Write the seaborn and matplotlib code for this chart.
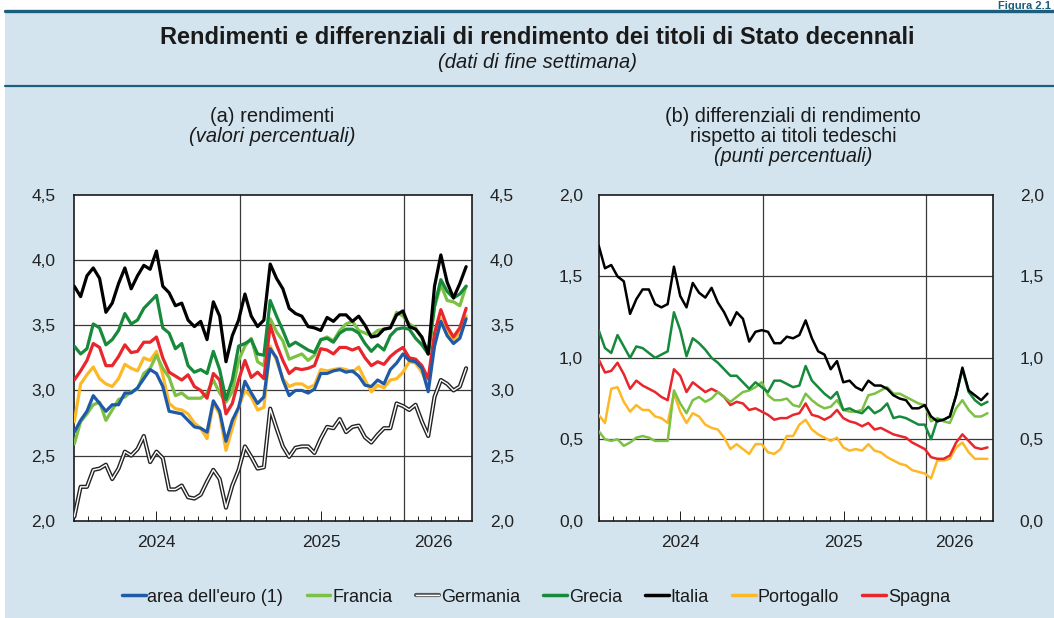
import matplotlib
matplotlib.use("Agg")
import matplotlib.pyplot as plt
import matplotlib.dates as mdates
import matplotlib.patheffects as pe
import matplotlib.ticker as mtick
import matplotlib.transforms as mtrans
from matplotlib.lines import Line2D
from matplotlib.patches import Rectangle
import pandas as pd
import seaborn as sns

sns.set_theme(style="white")
plt.rcParams["font.family"] = ["Liberation Sans", "DejaVu Sans"]

BG = "#d3e4ee"
TEAL = "#1d5e7c"
INK = "#1a1a1a"
COLORS = {
    "area dell'euro (1)": "#1f5aa8",
    "Francia": "#7cc143",
    "Germania": "#ffffff",
    "Grecia": "#16893b",
    "Italia": "#000000",
    "Portogallo": "#fdb827",
    "Spagna": "#e8262c",
}
LEGEND_ORDER = list(COLORS)

# fine settimana, campionati ogni due settimane
dates = pd.date_range("2024-01-01", periods=63, freq="14D")

# (a) rendimenti, valori percentuali
italia_y = [3.80, 3.72, 3.88, 3.94, 3.86, 3.60, 3.67, 3.82, 3.94, 3.78,
            3.88, 3.96, 3.93, 4.07, 3.80, 3.75, 3.65, 3.67, 3.54, 3.49,
            3.53, 3.39, 3.68, 3.57, 3.22, 3.42, 3.54, 3.74, 3.57, 3.49,
            3.54, 3.97, 3.86, 3.78, 3.63, 3.59, 3.57, 3.49, 3.48, 3.46,
            3.56, 3.53, 3.58, 3.58, 3.53, 3.57, 3.50, 3.41, 3.42, 3.47,
            3.48, 3.58, 3.61, 3.49, 3.47, 3.41, 3.28, 3.80, 4.04, 3.83,
            3.71, 3.82, 3.95]
grecia_y = [3.34, 3.28, 3.32, 3.51, 3.48, 3.35, 3.39, 3.46, 3.59, 3.51,
            3.54, 3.63, 3.68, 3.73, 3.48, 3.44, 3.32, 3.36, 3.19, 3.14,
            3.16, 3.13, 3.30, 3.16, 2.93, 3.08, 3.34, 3.36, 3.39, 3.28,
            3.27, 3.69, 3.57, 3.46, 3.34, 3.37, 3.34, 3.31, 3.29, 3.39,
            3.40, 3.37, 3.44, 3.47, 3.47, 3.44, 3.36, 3.30, 3.35, 3.31,
            3.42, 3.47, 3.48, 3.47, 3.40, 3.35, 3.28, 3.65, 3.85, 3.76,
            3.71, 3.74, 3.80]
francia_y = [2.59, 2.76, 2.82, 2.89, 2.91, 2.77, 2.85, 2.93, 2.95, 2.99,
             3.01, 3.13, 3.17, 3.27, 3.17, 3.10, 2.96, 2.98, 2.94, 2.94,
             2.94, 2.98, 3.08, 2.98, 2.91, 2.99, 3.23, 3.34, 3.40, 3.22,
             3.19, 3.55, 3.45, 3.38, 3.24, 3.26, 3.28, 3.23, 3.27, 3.39,
             3.41, 3.38, 3.46, 3.51, 3.53, 3.46, 3.44, 3.42, 3.46, 3.47,
             3.48, 3.60, 3.57, 3.51, 3.48, 3.40, 3.28, 3.64, 3.81, 3.69,
             3.68, 3.65, 3.80]
spagna_y = [3.08, 3.15, 3.23, 3.36, 3.33, 3.19, 3.19, 3.26, 3.35, 3.29,
            3.30, 3.37, 3.37, 3.41, 3.25, 3.14, 3.11, 3.08, 3.12, 3.03,
            3.00, 2.94, 3.13, 3.08, 2.82, 2.90, 3.08, 3.23, 3.10, 3.14,
            3.09, 3.50, 3.35, 3.23, 3.13, 3.17, 3.16, 3.17, 3.19, 3.32,
            3.31, 3.28, 3.33, 3.33, 3.31, 3.33, 3.25, 3.19, 3.22, 3.20,
            3.26, 3.30, 3.33, 3.25, 3.24, 3.19, 3.09, 3.44, 3.62, 3.49,
            3.41, 3.48, 3.63]
portogallo_y = [2.76, 3.05, 3.12, 3.18, 3.09, 3.05, 3.03, 3.09, 3.20, 3.17,
                3.15, 3.25, 3.23, 3.30, 3.12, 2.90, 2.86, 2.85, 2.82, 2.75,
                2.71, 2.63, 2.90, 2.82, 2.54, 2.71, 2.87, 3.00, 2.95, 2.85,
                2.87, 3.34, 3.23, 3.09, 3.03, 3.05, 3.05, 3.02, 3.04, 3.16,
                3.15, 3.16, 3.17, 3.16, 3.14, 3.18, 3.08, 2.99, 3.04, 3.02,
                3.08, 3.09, 3.14, 3.22, 3.21, 3.14, 3.03, 3.40, 3.55, 3.45,
                3.39, 3.44, 3.57]
euro_y = [2.68, 2.77, 2.84, 2.96, 2.90, 2.84, 2.89, 2.89, 2.98, 2.98,
          3.02, 3.09, 3.16, 3.13, 3.03, 2.84, 2.83, 2.82, 2.77, 2.72,
          2.71, 2.68, 2.92, 2.84, 2.61, 2.77, 2.87, 3.07, 2.98, 2.90,
          2.95, 3.32, 3.25, 3.08, 2.96, 3.00, 3.00, 2.98, 3.01, 3.13,
          3.13, 3.15, 3.16, 3.14, 3.15, 3.11, 3.04, 3.03, 3.08, 3.05,
          3.16, 3.21, 3.28, 3.23, 3.22, 3.17, 2.99, 3.34, 3.53, 3.42,
          3.36, 3.40, 3.55]
germania_y = [2.03, 2.26, 2.26, 2.39, 2.40, 2.43, 2.32, 2.40, 2.53, 2.50,
              2.55, 2.65, 2.45, 2.53, 2.48, 2.24, 2.24, 2.27, 2.18, 2.17,
              2.20, 2.30, 2.39, 2.32, 2.10, 2.27, 2.39, 2.57, 2.49, 2.40,
              2.41, 2.86, 2.71, 2.57, 2.49, 2.56, 2.57, 2.57, 2.52, 2.63,
              2.72, 2.71, 2.78, 2.68, 2.72, 2.73, 2.64, 2.60, 2.66, 2.71,
              2.71, 2.90, 2.88, 2.85, 2.89, 2.76, 2.65, 2.95, 3.08, 3.05,
              3.00, 3.03, 3.17]

# (b) differenziali rispetto ai titoli tedeschi, punti percentuali
italia_s = [1.69, 1.55, 1.57, 1.50, 1.47, 1.27, 1.36, 1.42, 1.42, 1.33,
            1.31, 1.33, 1.56, 1.38, 1.31, 1.46, 1.40, 1.37, 1.43, 1.34,
            1.28, 1.20, 1.28, 1.24, 1.10, 1.16, 1.17, 1.16, 1.09, 1.09,
            1.13, 1.12, 1.14, 1.23, 1.12, 1.04, 1.02, 0.93, 0.98, 0.85,
            0.86, 0.82, 0.80, 0.86, 0.83, 0.83, 0.81, 0.77, 0.75, 0.74,
            0.69, 0.69, 0.71, 0.64, 0.61, 0.62, 0.64, 0.77, 0.94, 0.80,
            0.77, 0.74, 0.78]
grecia_s = [1.17, 1.06, 1.03, 1.14, 1.07, 1.00, 1.07, 1.06, 1.03, 1.00,
            1.02, 1.04, 1.28, 1.17, 1.01, 1.12, 1.09, 1.05, 1.00, 0.97,
            0.93, 0.89, 0.89, 0.85, 0.81, 0.85, 0.82, 0.79, 0.86, 0.86,
            0.84, 0.82, 0.83, 0.95, 0.86, 0.82, 0.78, 0.75, 0.79, 0.68,
            0.69, 0.67, 0.66, 0.70, 0.66, 0.68, 0.72, 0.63, 0.64, 0.63,
            0.61, 0.59, 0.59, 0.50, 0.62, 0.62, 0.64, 0.77, 0.93, 0.79,
            0.74, 0.71, 0.73]
francia_s = [0.55, 0.50, 0.49, 0.50, 0.46, 0.48, 0.51, 0.52, 0.51, 0.49,
             0.49, 0.49, 0.80, 0.72, 0.66, 0.74, 0.76, 0.73, 0.75, 0.79,
             0.76, 0.73, 0.76, 0.79, 0.80, 0.82, 0.85, 0.77, 0.74, 0.74,
             0.75, 0.71, 0.70, 0.78, 0.74, 0.71, 0.69, 0.70, 0.74, 0.68,
             0.67, 0.67, 0.68, 0.77, 0.78, 0.80, 0.82, 0.78, 0.78, 0.76,
             0.74, 0.72, 0.71, 0.61, 0.63, 0.61, 0.60, 0.69, 0.74, 0.68,
             0.64, 0.64, 0.66]
spagna_s = [0.99, 0.91, 0.92, 0.97, 0.90, 0.81, 0.86, 0.83, 0.81, 0.79,
            0.76, 0.74, 0.93, 0.89, 0.79, 0.85, 0.82, 0.79, 0.81, 0.79,
            0.76, 0.71, 0.73, 0.72, 0.68, 0.69, 0.67, 0.65, 0.62, 0.63,
            0.63, 0.65, 0.66, 0.72, 0.65, 0.64, 0.62, 0.64, 0.68, 0.63,
            0.61, 0.60, 0.58, 0.60, 0.56, 0.57, 0.55, 0.53, 0.52, 0.51,
            0.48, 0.46, 0.44, 0.39, 0.38, 0.38, 0.40, 0.48, 0.53, 0.49,
            0.45, 0.44, 0.45]
portogallo_s = [0.65, 0.60, 0.81, 0.82, 0.73, 0.67, 0.71, 0.68, 0.68, 0.64,
                0.63, 0.60, 0.78, 0.67, 0.60, 0.66, 0.64, 0.59, 0.57, 0.56,
                0.51, 0.44, 0.47, 0.44, 0.41, 0.47, 0.47, 0.42, 0.41, 0.44,
                0.52, 0.52, 0.59, 0.62, 0.56, 0.53, 0.51, 0.49, 0.51, 0.45,
                0.43, 0.44, 0.43, 0.47, 0.43, 0.42, 0.39, 0.37, 0.35, 0.34,
                0.31, 0.30, 0.29, 0.26, 0.37, 0.37, 0.38, 0.45, 0.48, 0.42,
                0.38, 0.38, 0.38]

yields = {
    "Portogallo": portogallo_y, "Francia": francia_y, "Spagna": spagna_y,
    "Grecia": grecia_y, "area dell'euro (1)": euro_y, "Italia": italia_y,
}
spreads = {
    "Portogallo": portogallo_s, "Spagna": spagna_s, "Francia": francia_s,
    "Grecia": grecia_s, "Italia": italia_s,
}

YEAR_LABELS = ["2024", "2025", "2026"]
YEAR_POS = [pd.Timestamp("2024-07-01"), pd.Timestamp("2025-07-01"),
            pd.Timestamp("2026-03-06")]
XLIM = (pd.Timestamp("2024-01-01"), pd.Timestamp("2026-05-31"))
comma = mtick.FuncFormatter(lambda v, _: f"{v:.1f}".replace(".", ","))


def long_form(series):
    frames = [pd.DataFrame({"date": dates, "value": v, "serie": k})
              for k, v in series.items()]
    return pd.concat(frames, ignore_index=True)


def style_panel(ax, ylim, step, pad_left, pad_right):
    ax.set_facecolor("white")
    ax.set_xlim(*XLIM)
    ax.set_ylim(*ylim)
    ticks = [ylim[0] + step * k for k in range(int(round((ylim[1] - ylim[0]) / step)) + 1)]
    for t in ticks[1:-1]:
        ax.axhline(t, color="#3a3a3a", lw=0.9, zorder=1)
    for yr in ("2025-01-01", "2026-01-01"):
        ax.axvline(pd.Timestamp(yr), color="#3a3a3a", lw=0.9, zorder=1)
    for s in ax.spines.values():
        s.set_color(INK)
        s.set_linewidth(1.2)
    ax.set_yticks(ticks)
    ax.yaxis.set_major_formatter(comma)
    ax.tick_params(axis="y", left=False, right=False, length=0, labelsize=12.5,
                   pad=pad_left, colors="#222222")
    ax.xaxis.set_minor_locator(mdates.MonthLocator())
    ax.xaxis.set_major_locator(mdates.MonthLocator(bymonth=7))
    ax.xaxis.set_major_formatter(mtick.NullFormatter())
    ax.tick_params(axis="x", which="minor", bottom=True, direction="in",
                   length=3.5, width=0.7, color=INK)
    ax.tick_params(axis="x", which="major", bottom=True, direction="in",
                   length=7, width=0.7, color=INK)
    ax.set_xlabel("")
    ax.set_ylabel("")
    trans = mtrans.blended_transform_factory(ax.transData, ax.transAxes)
    for lab, pos in zip(YEAR_LABELS, YEAR_POS):
        ax.text(pos, -0.068, lab, transform=trans, ha="center", va="center",
                fontsize=12.5, color="#222222")
    twin = ax.twinx()
    twin.set_ylim(*ylim)
    twin.set_yticks(ticks)
    twin.yaxis.set_major_formatter(comma)
    twin.tick_params(axis="y", right=False, left=False, length=0, labelsize=12.5,
                     pad=pad_right, colors="#222222")
    twin.grid(False)
    for s in twin.spines.values():
        s.set_visible(False)


fig = plt.figure(figsize=(10.54, 6.18), dpi=100, facecolor=BG)
W, H = 1054, 618
fig.add_artist(Rectangle((0, 1 - 11 / H), 1, 11 / H, transform=fig.transFigure,
                         facecolor="white", edgecolor="none"))
fig.add_artist(Rectangle((0, 0), 5 / W, 1, transform=fig.transFigure,
                         facecolor="white", edgecolor="none"))
fig.add_artist(Line2D([5 / W, 1], [1 - 11 / H] * 2, transform=fig.transFigure,
                      color=TEAL, lw=2.4))
fig.add_artist(Line2D([5 / W, 1], [1 - 86 / H] * 2, transform=fig.transFigure,
                      color=TEAL, lw=1.6))
fig.text(1051 / W, 1 - 9 / H, "Figura 2.1", ha="right", va="baseline",
         fontsize=8, fontweight="bold", color=TEAL)

fig.text(537 / W, 1 - 38 / H, "Rendimenti e differenziali di rendimento dei titoli di Stato decennali",
         ha="center", va="center", fontsize=17, fontweight="bold", color=INK)
fig.text(537 / W, 1 - 62 / H, "(dati di fine settimana)", ha="center", va="center",
         fontsize=14.5, style="italic", color=INK)

fig.text(272 / W, 1 - 117 / H, "(a) rendimenti", ha="center", va="center",
         fontsize=14.5, color=INK)
fig.text(272 / W, 1 - 137 / H, "(valori percentuali)", ha="center", va="center",
         fontsize=14.5, style="italic", color=INK)
fig.text(793 / W, 1 - 117 / H, "(b) differenziali di rendimento", ha="center",
         va="center", fontsize=14.2, color=INK)
fig.text(793 / W, 1 - 137 / H, "rispetto ai titoli tedeschi", ha="center",
         va="center", fontsize=14.2, color=INK)
fig.text(793 / W, 1 - 157 / H, "(punti percentuali)", ha="center", va="center",
         fontsize=14.2, style="italic", color=INK)

ax_a = fig.add_axes([74.3 / W, 1 - 520.7 / H, 397.7 / W, 325.7 / H])
ax_b = fig.add_axes([598.7 / W, 1 - 520.7 / H, 394.6 / W, 325.7 / H])

# Germania: doppia linea (bordo scuro, interno bianco)
ger = pd.DataFrame({"date": dates, "value": germania_y})
sns.lineplot(data=ger, x="date", y="value", ax=ax_a, color="white", lw=1.0,
             path_effects=[pe.Stroke(linewidth=3.0, foreground="#222222"), pe.Normal()],
             zorder=3)
sns.lineplot(data=long_form(yields), x="date", y="value", hue="serie",
             hue_order=list(yields), palette=COLORS, lw=2.3, ax=ax_a,
             legend=False, zorder=4)
sns.lineplot(data=long_form(spreads), x="date", y="value", hue="serie",
             hue_order=list(spreads), palette=COLORS, lw=1.8, ax=ax_b,
             legend=False, zorder=4)

style_panel(ax_a, (2.0, 4.5), 0.5, 13.7, 13.0)
style_panel(ax_b, (0.0, 2.0), 0.5, 11.3, 19.0)

handles = []
for name in LEGEND_ORDER:
    if name == "Germania":
        h = Line2D([], [], color="white", lw=1.0,
                   path_effects=[pe.Stroke(linewidth=3.0, foreground="#555555"), pe.Normal()])
    else:
        h = Line2D([], [], color=COLORS[name], lw=2.5)
    handles.append(h)
fig.legend(handles, LEGEND_ORDER, loc="center", bbox_to_anchor=(536 / W, 1 - 597 / H),
           ncol=7, frameon=False, fontsize=13, handlelength=1.3, handletextpad=0.1,
           columnspacing=1.3, labelcolor=INK)

fig.savefig("out.png", dpi=100, facecolor=BG)
